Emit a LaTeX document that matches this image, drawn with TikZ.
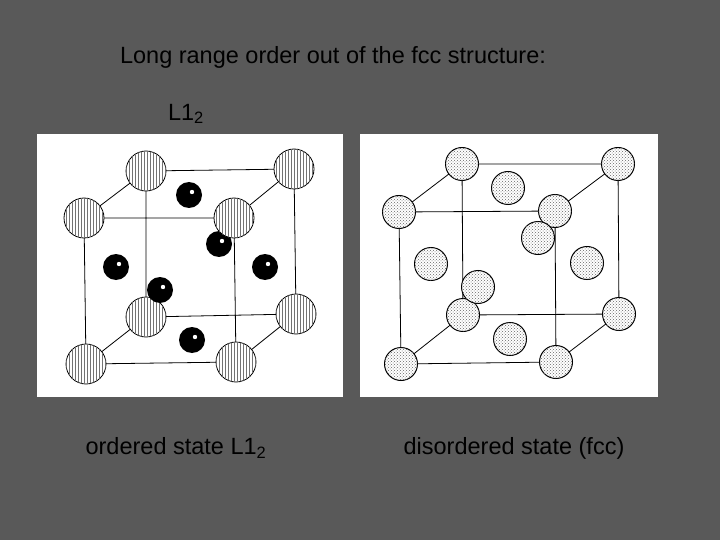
\documentclass[tikz,border=0pt]{standalone}
\usepackage{fontspec}
\setmainfont{Liberation Sans}
\usetikzlibrary{patterns}
\definecolor{bg}{HTML}{595959}
\begin{document}
\begin{tikzpicture}[x=1pt,y=-1pt,
  edge/.style={black,line width=0.8pt},
  atomL/.style={circle,draw=black,line width=0.8pt,fill=white,postaction={pattern=vertical lines,pattern color=black!55},minimum size=40pt,inner sep=0pt},
  atomB/.style={circle,fill=black,minimum size=26pt,inner sep=0pt,path picture={\fill[white] ([xshift=3pt,yshift=3pt]path picture bounding box.center) circle (2.2pt);}},
  atomR/.style={circle,draw=black,line width=1pt,fill=white,postaction={pattern=crosshatch dots,pattern color=black!60},minimum size=33pt,inner sep=0pt},
  lbl/.style={font=\fontsize{23.5}{26}\selectfont,text=black}]
\fill[bg] (0,0) rectangle (720,540);
\useasboundingbox (0,0) rectangle (720,540);
\node[lbl] (title) at (333,57) {Long range order out of the fcc structure:};
\node[lbl] (l12) at (186,114) {L1\textsubscript{2}};
\node[lbl] (lo) at (176,448) {ordered state L1\textsubscript{2}};
\node[lbl] (ld) at (514,448) {disordered state (fcc)};
% left panel
\fill[white] (37,134) rectangle (343,397);
\coordinate (a1) at (146,171); \coordinate (a2) at (294,169);
\coordinate (a3) at (84,218); \coordinate (a4) at (234,218);
\coordinate (a5) at (146,317); \coordinate (a6) at (296,314);
\coordinate (a7) at (86,364); \coordinate (a8) at (236,362);
\draw[edge] (a1)--(a2)--(a6)--(a5)--cycle (a3)--(a4)--(a8)--(a7)--cycle
  (a1)--(a3) (a2)--(a4) (a5)--(a7) (a6)--(a8);
\node[atomL] (L1) at (a1) {}; \node[atomL] (L2) at (a2) {};
\node[atomL] (L5) at (a5) {}; \node[atomL] (L6) at (a6) {};
\node[atomB] (B1) at (189,195) {};
\node[atomB] (B3) at (116,267) {};
\node[atomB] (B4) at (265,267) {};
\node[atomB] (B6) at (192,340) {};
\node[atomB] (B2) at (219,244) {};
\node[atomL] (L4) at (a4) {};
\node[atomB] (B5) at (160,290) {};
\node[atomL] (L3) at (a3) {}; \node[atomL] (L7) at (a7) {}; \node[atomL] (L8) at (a8) {};
% right panel
\fill[white] (360,134) rectangle (658,397);
\coordinate (b1) at (462,164); \coordinate (b2) at (618,164);
\coordinate (b3) at (399,212); \coordinate (b4) at (555,211);
\coordinate (b5) at (463,315); \coordinate (b6) at (619,314);
\coordinate (b7) at (401,364); \coordinate (b8) at (556,362);
\draw[edge] (b1)--(b2)--(b6)--(b5)--cycle (b3)--(b4)--(b8)--(b7)--cycle
  (b1)--(b3) (b2)--(b4) (b5)--(b7) (b6)--(b8);
\node[atomR] (R1) at (b1) {}; \node[atomR] (R2) at (b2) {};
\node[atomR] (R5) at (b5) {}; \node[atomR] (R6) at (b6) {};
\node[atomR] (F1) at (508,188) {};
\node[atomR] (F3) at (431,264) {};
\node[atomR] (F4) at (587,263) {};
\node[atomR] (F6) at (510,339) {};
\node[atomR] (R4) at (b4) {};
\node[atomR] (F2) at (538,238) {};
\node[atomR] (F5) at (478,287) {};
\node[atomR] (R3) at (b3) {}; \node[atomR] (R7) at (b7) {}; \node[atomR] (R8) at (b8) {};
\end{tikzpicture}
\end{document}
